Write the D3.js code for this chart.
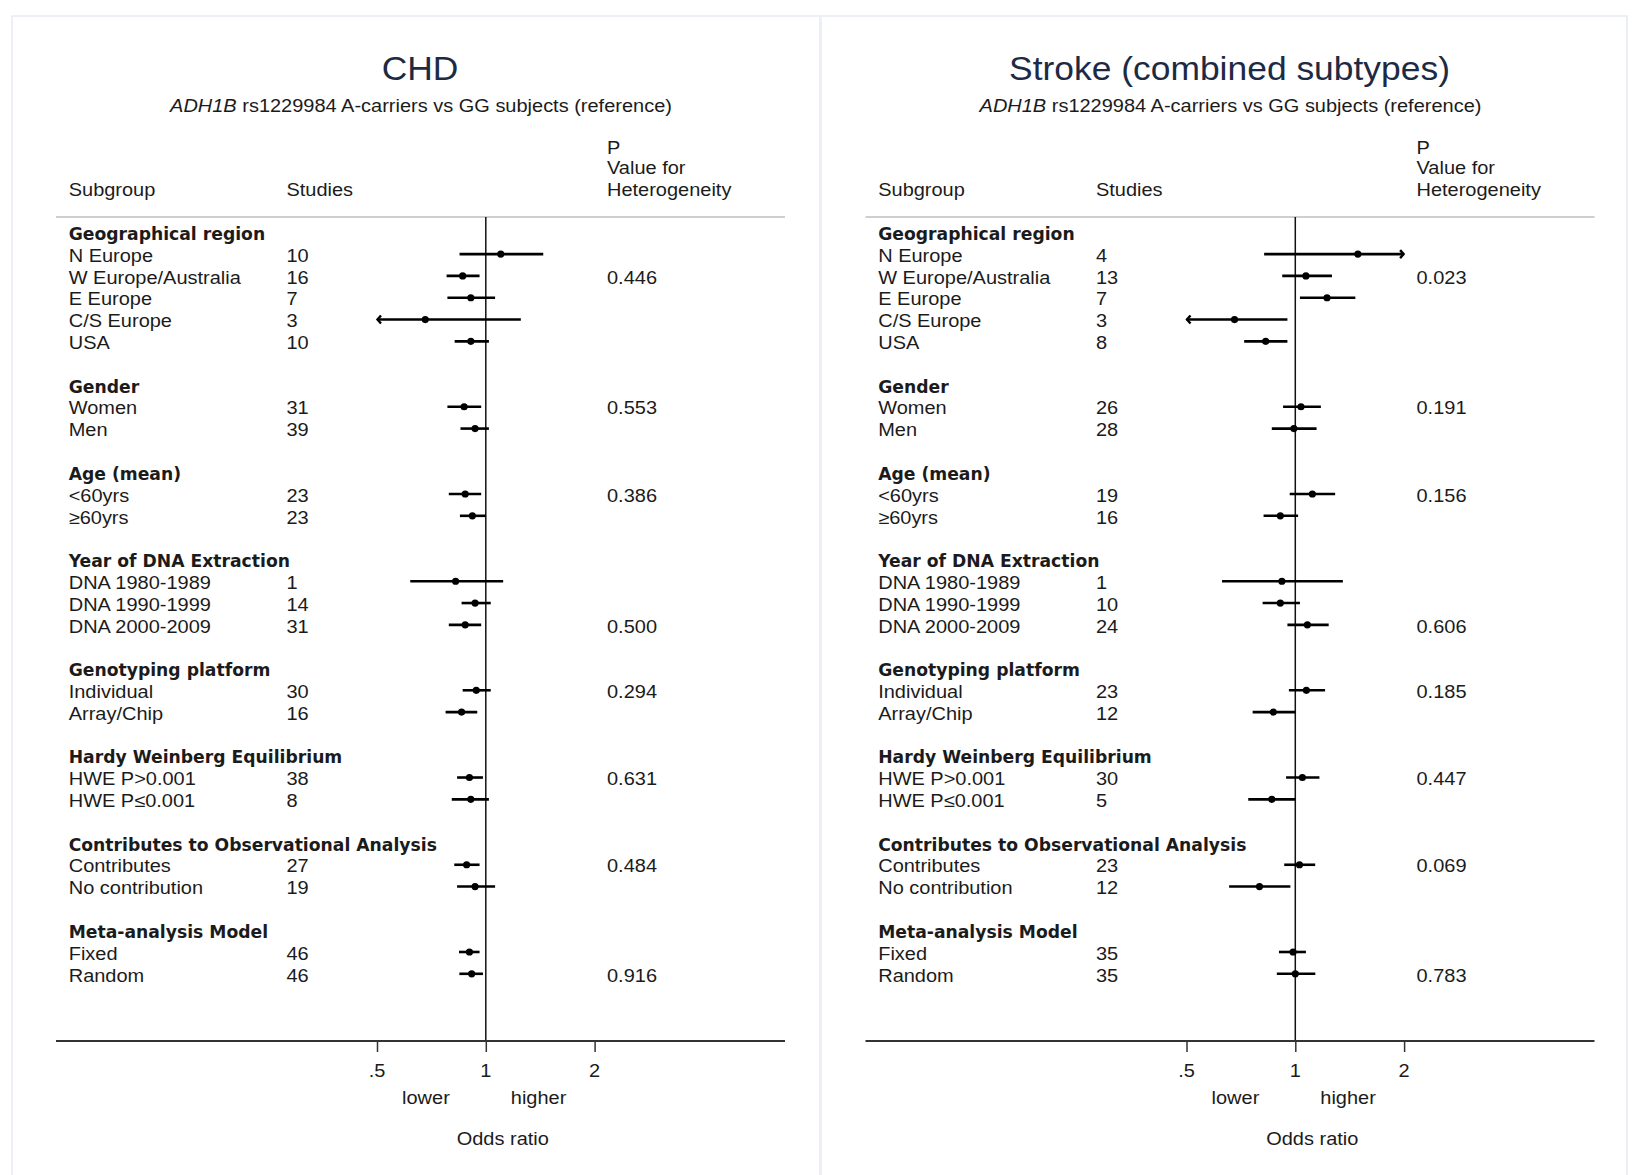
<!DOCTYPE html>
<html>
<head>
<meta charset="utf-8">
<script src="https://cdn.jsdelivr.net/npm/d3@7"></script>
<style>
  body { margin: 0; background: #fff; }
  svg { display: block; }
</style>
</head>
<body>
<div id="chart"></div>
<script>
// group headers and subgroup rows (same layout in both panels)
var groupNames = ["Geographical region", "Gender", "Age (mean)", "Year of DNA Extraction",
    "Genotyping platform", "Hardy Weinberg Equilibrium",
    "Contributes to Observational Analysis", "Meta-analysis Model"];
var subgroupLabels = [
    ["N Europe", "W Europe/Australia", "E Europe", "C/S Europe", "USA"],
    ["Women", "Men"],
    ["<60yrs", "\u226560yrs"],
    ["DNA 1980-1989", "DNA 1990-1999", "DNA 2000-2009"],
    ["Individual", "Array/Chip"],
    ["HWE P>0.001", "HWE P\u22640.001"],
    ["Contributes", "No contribution"],
    ["Fixed", "Random"]
];
// which row of each group carries the heterogeneity p value
var pRow = [1, 0, 0, 2, 0, 0, 0, 1];

// CHD
var chdStudies = [10, 16, 7, 3, 10, 31, 39, 23, 23, 1, 14, 31, 30, 16, 38, 8, 27, 19, 46, 46];
var chdOR = [1.10, 0.863, 0.909, 0.68, 0.909, 0.871, 0.934, 0.877, 0.918, 0.825, 0.934, 0.877,
    0.941, 0.857, 0.901, 0.909, 0.885, 0.934, 0.901, 0.914];
var chdLo = [0.846, 0.779, 0.783, 0.45, 0.82, 0.783, 0.851, 0.79, 0.848, 0.618, 0.857, 0.79,
    0.863, 0.774, 0.833, 0.805, 0.818, 0.833, 0.843, 0.845];
var chdHi = [1.442, 0.961, 1.061, 1.25, 1.02, 0.971, 1.02, 0.971, 1.0, 1.117, 1.032, 0.971,
    1.032, 0.947, 0.982, 1.02, 0.961, 1.061, 0.961, 0.982];
var chdP = ["0.446", "0.553", "0.386", "0.500", "0.294", "0.631", "0.484", "0.916"];

// Stroke
var strokeStudies = [4, 13, 7, 3, 8, 26, 28, 19, 16, 1, 10, 24, 23, 12, 30, 5, 23, 12, 35, 35];
var strokeOR = [1.49, 1.07, 1.224, 0.679, 0.828, 1.037, 0.991, 1.115, 0.909, 0.918, 0.909, 1.08,
    1.073, 0.869, 1.046, 0.861, 1.027, 0.796, 0.986, 1.0];
var strokeLo = [0.82, 0.92, 1.03, 0.4, 0.722, 0.925, 0.861, 0.965, 0.817, 0.627, 0.812, 0.951,
    0.96, 0.762, 0.943, 0.741, 0.932, 0.656, 0.901, 0.889];
var strokeHi = [2.6, 1.263, 1.466, 0.951, 0.951, 1.177, 1.145, 1.289, 1.018, 1.354, 1.03, 1.237,
    1.209, 1.0, 1.166, 1.0, 1.135, 0.969, 1.07, 1.136];
var strokeP = ["0.023", "0.191", "0.156", "0.606", "0.185", "0.447", "0.069", "0.783"];

var tickValues = [0.5, 1, 2];
var tickLabels = [".5", "1", "2"];

var width = 1633, height = 1175;
var textColor = "#1b1b1b";
var stretch = 1.08;
var fs = 18.5;

var svg = d3.select("#chart").append("svg")
    .attr("width", width)
    .attr("height", height);

// panel frames
svg.append("rect").attr("x", 12).attr("y", 16).attr("width", 808).attr("height", 1200)
    .attr("fill", "#fff").attr("stroke", "#e6ebf2").attr("stroke-width", 1.5);
svg.append("rect").attr("x", 821).attr("y", 16).attr("width", 806).attr("height", 1200)
    .attr("fill", "#fff").attr("stroke", "#e6ebf2").attr("stroke-width", 1.5);
svg.append("line").attr("x1", 820.5).attr("x2", 820.5).attr("y1", 16).attr("y2", height)
    .attr("stroke", "#eceff5").attr("stroke-width", 3);

// text helper: arial-like text drawn slightly wide, like the original
function txt(g, x, y, s, size, anchor, opts) {
    opts = opts || {};
    var t = g.append("text")
        .attr("transform", "translate(" + x + "," + y + ") scale(" + (opts.sx || stretch) + ",1)")
        .attr("text-anchor", anchor || "start")
        .attr("font-family", opts.family || "'Liberation Sans', Arial, sans-serif")
        .attr("font-size", size)
        .attr("font-weight", opts.weight || "normal")
        .attr("fill", opts.fill || textColor)
        .text(s);
    return t;
}

// build row list
var rows = [];
var r = 0, k = 0;
groupNames.forEach(function(name, gi) {
    rows.push({type: "head", label: name, row: r});
    subgroupLabels[gi].forEach(function(lab, j) {
        rows.push({type: "item", label: lab, row: r + 1 + j, idx: k, group: gi, j: j});
        k++;
    });
    r += subgroupLabels[gi].length + 2;
});

var y = d3.scaleLinear().domain([0, 34]).range([233.3, 974.8]);

function drawPanel(dx, title, studies, or, lo, hi, pvals) {
    var g = svg.append("g").attr("transform", "translate(" + dx + ",0)");

    var x = d3.scaleLog().domain([0.5, 2]).range([377, 594.6]);

    // titles
    txt(g, 420, 80, title, 32.5, "middle", {fill: "#1d2a44", sx: 1.09});
    var sub = txt(g, 421, 112, "", fs, "middle");
    sub.append("tspan").attr("font-style", "italic").text("ADH1B");
    sub.append("tspan").text(" rs1229984 A-carriers vs GG subjects (reference)");

    // column headers
    txt(g, 68.7, 196.3, "Subgroup", fs);
    txt(g, 286.4, 196.3, "Studies", fs);
    txt(g, 607, 153.6, "P", fs);
    txt(g, 607, 174.4, "Value for", fs);
    txt(g, 607, 196.3, "Heterogeneity", fs);

    g.append("line").attr("x1", 56).attr("x2", 785).attr("y1", 217).attr("y2", 217)
        .attr("stroke", "#cfcfcf").attr("stroke-width", 2);

    // null line
    g.append("line").attr("x1", x(1)).attr("x2", x(1)).attr("y1", 217).attr("y2", 1041)
        .attr("stroke", "#111").attr("stroke-width", 1.5);

    rows.forEach(function(d) {
        var yc = y(d.row);
        if (d.type === "head") {
            txt(g, 68.7, yc + 6.7, d.label, 17.2, "start",
                {family: "'DejaVu Sans', Verdana, sans-serif", weight: "bold", sx: 1});
            return;
        }
        txt(g, 68.7, yc + 6.7, d.label, fs);
        txt(g, 286.4, yc + 6.7, studies[d.idx], fs);
        if (pRow[d.group] === d.j) txt(g, 607, yc + 6.7, pvals[d.group], fs);

        var ly = yc - 1;
        var l = Math.max(lo[d.idx], 0.5), h = Math.min(hi[d.idx], 2);
        g.append("line")
            .attr("x1", x(l)).attr("x2", x(h)).attr("y1", ly).attr("y2", ly)
            .attr("stroke", "#000").attr("stroke-width", 2.6);
        if (lo[d.idx] < 0.5) {
            g.append("path")
                .attr("d", "M" + (x(0.5) + 4) + "," + (ly - 4) + "L" + (x(0.5) + 0.5) + "," + ly + "L" + (x(0.5) + 4) + "," + (ly + 4))
                .attr("fill", "none").attr("stroke", "#000").attr("stroke-width", 2.4);
        }
        if (hi[d.idx] > 2) {
            g.append("path")
                .attr("d", "M" + (x(2) - 4) + "," + (ly - 4) + "L" + (x(2) - 0.5) + "," + ly + "L" + (x(2) - 4) + "," + (ly + 4))
                .attr("fill", "none").attr("stroke", "#000").attr("stroke-width", 2.4);
        }
        g.append("circle").attr("cx", x(or[d.idx])).attr("cy", ly).attr("r", 3.6).attr("fill", "#000");
    });

    // x axis
    g.append("line").attr("x1", 56).attr("x2", 785).attr("y1", 1041).attr("y2", 1041)
        .attr("stroke", "#333").attr("stroke-width", 2);
    var axis = d3.axisBottom(x).tickValues(tickValues).tickSize(11)
        .tickFormat(function(d, i) { return tickLabels[i]; });
    var ax = g.append("g").attr("transform", "translate(0,1041)").call(axis);
    ax.select(".domain").remove();
    ax.selectAll(".tick line").attr("stroke", "#333").attr("stroke-width", 1.5);
    ax.selectAll(".tick text").remove();
    tickValues.forEach(function(v, i) {
        txt(g, x(v), 1077, tickLabels[i], fs, "middle");
    });

    txt(g, x(1) - 36, 1104, "lower", fs, "end");
    txt(g, x(1) + 25, 1104, "higher", fs, "start");
    txt(g, x(1) + 17, 1145, "Odds ratio", fs, "middle");
}

drawPanel(0, "CHD", chdStudies, chdOR, chdLo, chdHi, chdP);
drawPanel(809.5, "Stroke (combined subtypes)", strokeStudies, strokeOR, strokeLo, strokeHi, strokeP);
</script>
</body>
</html>
